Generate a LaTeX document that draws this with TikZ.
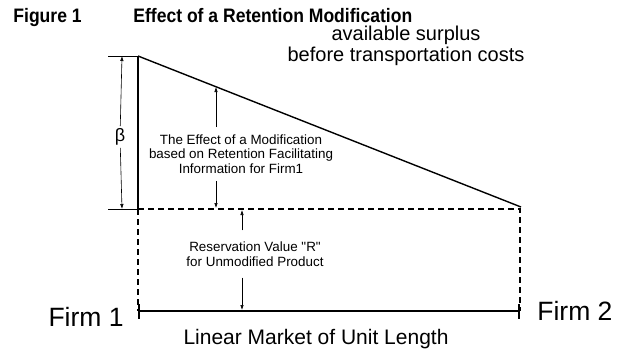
\documentclass[tikz,border=0pt]{standalone}
\usepackage{fontspec}
\setmainfont{Liberation Sans}[Ligatures=TeXOff]
\newfontfamily\titlefont[FakeStretch=0.9]{Liberation Sans}
\usetikzlibrary{positioning, arrows.meta}

\begin{document}
\begin{tikzpicture}[x=1pt, y=-1pt, thick,
    note/.style = {align=center, font=\fontsize{13.4}{14.6}\selectfont},
    dim/.style = {-{Latex[length=5pt,width=3.5pt]}, line width=0.6pt},
    edge/.style = {line width=0.6pt},
    big/.style = {font=\fontsize{26.5}{30}\selectfont, inner sep=0pt}]
      \useasboundingbox (0,0) rectangle (621,351);
      % title
      \node[anchor=base west, inner sep=0pt, font=\titlefont\bfseries\fontsize{19.5}{24}\selectfont] (fig) at (13,22) {Figure 1};
      \node[anchor=base west, inner sep=0pt, font=\titlefont\bfseries\fontsize{19.5}{24}\selectfont] (title) at (133,22) {Effect of a Retention Modification};
      % corners
      \coordinate (top) at (138,56);
      \coordinate (end) at (521,207);
      \coordinate (rl) at (138,209);
      \coordinate (rr) at (520,209);
      \coordinate (f1) at (138,311);
      \coordinate (f2) at (520,311);
      \draw[line width=2pt] (top) -- (rl);
      \draw[line width=1.4pt] (top) -- (end);
      \draw[dashed, line width=1.3pt, dash pattern=on 6pt off 4pt] (rl) -- (rr) -- (f2);
      \draw[dashed, line width=1.3pt, dash pattern=on 6pt off 4pt] (rl) -- (f1);
      \draw[line width=1.7pt, {Bar[width=15pt]}-{Bar[width=15pt]}] (f1) -- (f2);
      % beta
      \coordinate (bt0) at (108,56);
      \coordinate (bb0) at (108,209);
      \coordinate (bt) at (122,56);
      \coordinate (bb) at (122,209);
      \draw[edge] (bt0) -- (top);
      \draw[edge] (bb0) -- (rl);
      \node[fill=white, inner sep=2pt, font=\fontsize{18}{20}\selectfont] (beta) at (120,137) {β};
      \draw[dim] (beta) -- (bt);
      \draw[dim] (beta) -- (bb);
      % texts
      \node[align=center, font=\fontsize{20}{21.5}\selectfont, inner sep=0pt] (surplus) at (406,46) {available surplus\\before transportation costs};
      \node[note, inner ysep=7pt] (eff) at (241,154) {The Effect of a Modification\\based on Retention Facilitating\\Information for Firm1};
      \coordinate (s1) at (216,87);
      \coordinate (s2) at (216,208);
      \draw[dim] (eff.north -| s1) -- (s1);
      \draw[dim] (eff.south -| s2) -- (s2);
      \node[note, inner ysep=11pt] (res) at (255,254) {Reservation Value "R"\\for Unmodified Product};
      \coordinate (r1) at (242,210);
      \coordinate (r2) at (242,310);
      \draw[dim] (res.north -| r1) -- (r1);
      \draw[dim] (res.south -| r2) -- (r2);
      \node[big, anchor=east] (firm1) at (124,317) {Firm 1};
      \node[big, anchor=west] (firm2) at (537,311) {Firm 2};
      \node[font=\fontsize{21}{24}\selectfont, inner sep=0pt] (market) at (316,339) {Linear Market of Unit Length};
    \end{tikzpicture}
\end{document}
